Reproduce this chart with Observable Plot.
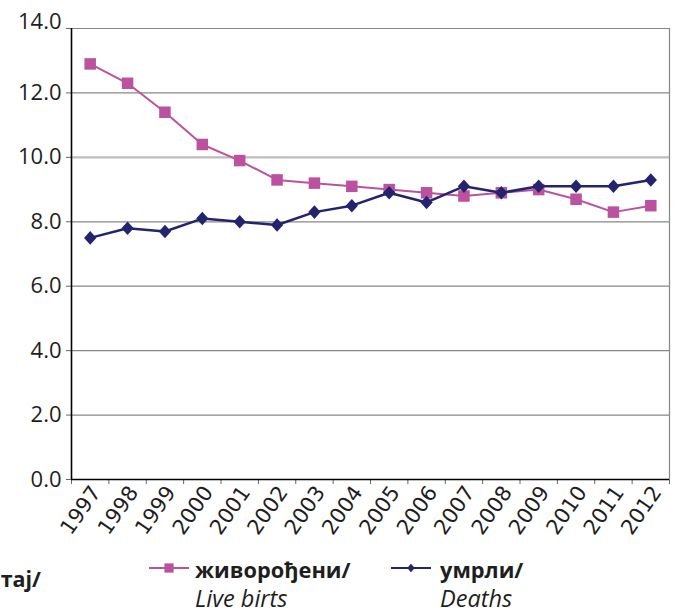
<!DOCTYPE html>
<html><head><meta charset="utf-8">
<script src="https://cdn.jsdelivr.net/npm/d3@7"></script>
<script src="https://cdn.jsdelivr.net/npm/@observablehq/plot@0.6"></script>
<style>
html,body{margin:0;padding:0;background:#fff;}
#wrap{position:relative;width:676px;height:614px;overflow:hidden;background:#fff;}
#wrap > svg{display:block;}
#legend{position:absolute;left:0;top:0;}
</style></head><body><div id="wrap"></div>
<script>
const years = [1997,1998,1999,2000,2001,2002,2003,2004,2005,2006,2007,2008,2009,2010,2011,2012];
const liveBirths = [12.9,12.3,11.4,10.4,9.9,9.3,9.2,9.1,9.0,8.9,8.8,8.9,9.0,8.7,8.3,8.5];
const deaths = [7.5,7.8,7.7,8.1,8.0,7.9,8.3,8.5,8.9,8.6,9.1,8.9,9.1,9.1,9.1,9.3];
const yTicks = [0,2,4,6,8,10,12,14];
const seriesNames = ["живорођени/", "умрли/"];
const seriesNamesEn = ["Live birts", "Deaths"];
const cutLabel = ["Прираштај/"];

const PINK = "#bb52a0", NAVY = "#24246e";
const diamond = {draw(ctx, size){ const r = Math.sqrt(size/2); ctx.moveTo(0,-r*1.08); ctx.lineTo(r*0.98,0); ctx.lineTo(0,r*1.08); ctx.lineTo(-r*0.98,0); ctx.closePath(); }};

const birthsData = years.map((year,i)=>({year, value: liveBirths[i]}));
const deathsData = years.map((year,i)=>({year, value: deaths[i]}));
const bounds = d3.range(years.length+1).map(i => years[0]-0.5+i);

const chart = Plot.plot({
  width:676, height:545, marginLeft:71, marginRight:7, marginTop:28, marginBottom:66,
  style:{fontFamily:"Open Sans", background:"transparent", overflow:"visible", color:"#1e1e1e"},
  x:{type:"linear", domain:[bounds[0], bounds[bounds.length-1]], label:null},
  y:{domain:[0,14], label:null},
  marks:[
    Plot.ruleY(yTicks.filter(d=>d!==0 && d!==10), {stroke:"#878787", strokeWidth:1.2}),
    Plot.ruleY([10], {stroke:"#bdbdbd", strokeWidth:2.2}),
    Plot.ruleX([bounds[bounds.length-1]], {stroke:"#878787", strokeWidth:1.2}),
    Plot.axisY(yTicks, {tickFormat:d=>d===14 ? "" : d.toFixed(1), tickSize:5, tickPadding:5, fontSize:22, fontFamily:"Open Sans", label:null, stroke:"#666"}),
    Plot.axisY([14], {tickFormat:d=>d.toFixed(1), tickSize:0, tickPadding:10, fontSize:22, fontFamily:"Open Sans", label:null, dy:-7}),
    Plot.axisX(bounds, {tickFormat:()=>"", tickSize:5, label:null, stroke:"#666"}),
    Plot.axisX(years, {tickSize:0, tickPadding:9, tickRotate:-55, dx:6, fontSize:21, fontFamily:"DejaVu Sans", label:null, tickFormat:d=>String(d)}),
    Plot.ruleX([bounds[0]], {stroke:"#000", strokeWidth:1.6}),
    Plot.ruleY([0], {stroke:"#000", strokeWidth:1.6}),
    Plot.line(birthsData, {x:"year", y:"value", stroke:PINK, strokeWidth:2}),
    Plot.dot(birthsData, {x:"year", y:"value", symbol:"square", r:6.5, fill:PINK}),
    Plot.line(deathsData, {x:"year", y:"value", stroke:NAVY, strokeWidth:2.5}),
    Plot.dot(deathsData, {x:"year", y:"value", symbol:diamond, r:5, fill:NAVY})
  ]
});
const wrap = document.getElementById("wrap");
wrap.appendChild(chart);

// legend
const svg = d3.select(wrap).append("svg").attr("id","legend").attr("width",676).attr("height",614)
  .style("font-family","Open Sans");
const items = [
  {x0:149, x1:189, tx:195, color:PINK, sym:d3.symbolSquare, size:85, name:seriesNames[0], en:seriesNamesEn[0]},
  {x0:391, x1:431, tx:440, color:NAVY, sym:diamond, size:30, name:seriesNames[1], en:seriesNamesEn[1]}
];
items.forEach(it=>{
  const g = svg.append("g");
  g.append("line").attr("x1",it.x0).attr("x2",it.x1).attr("y1",568).attr("y2",568).attr("stroke",it.color).attr("stroke-width",2);
  g.append("path").attr("d", d3.symbol(it.sym, it.size)()).attr("transform",`translate(${(it.x0+it.x1)/2},568)`).attr("fill",it.color);
  g.append("text").attr("x",it.tx).attr("y",578).attr("font-size",21.8).attr("font-weight","bold").attr("fill","#1e1e1e").text(it.name);
  g.append("text").attr("x",it.tx).attr("y",607).attr("font-size",23.5).attr("font-style","italic").attr("fill","#1e1e1e").text(it.en);
});
svg.append("text").attr("x",41).attr("y",587).attr("text-anchor","end").attr("font-size",21.5).attr("font-weight","bold").attr("fill","#1e1e1e").text(cutLabel[0]);
</script>
</body></html>
